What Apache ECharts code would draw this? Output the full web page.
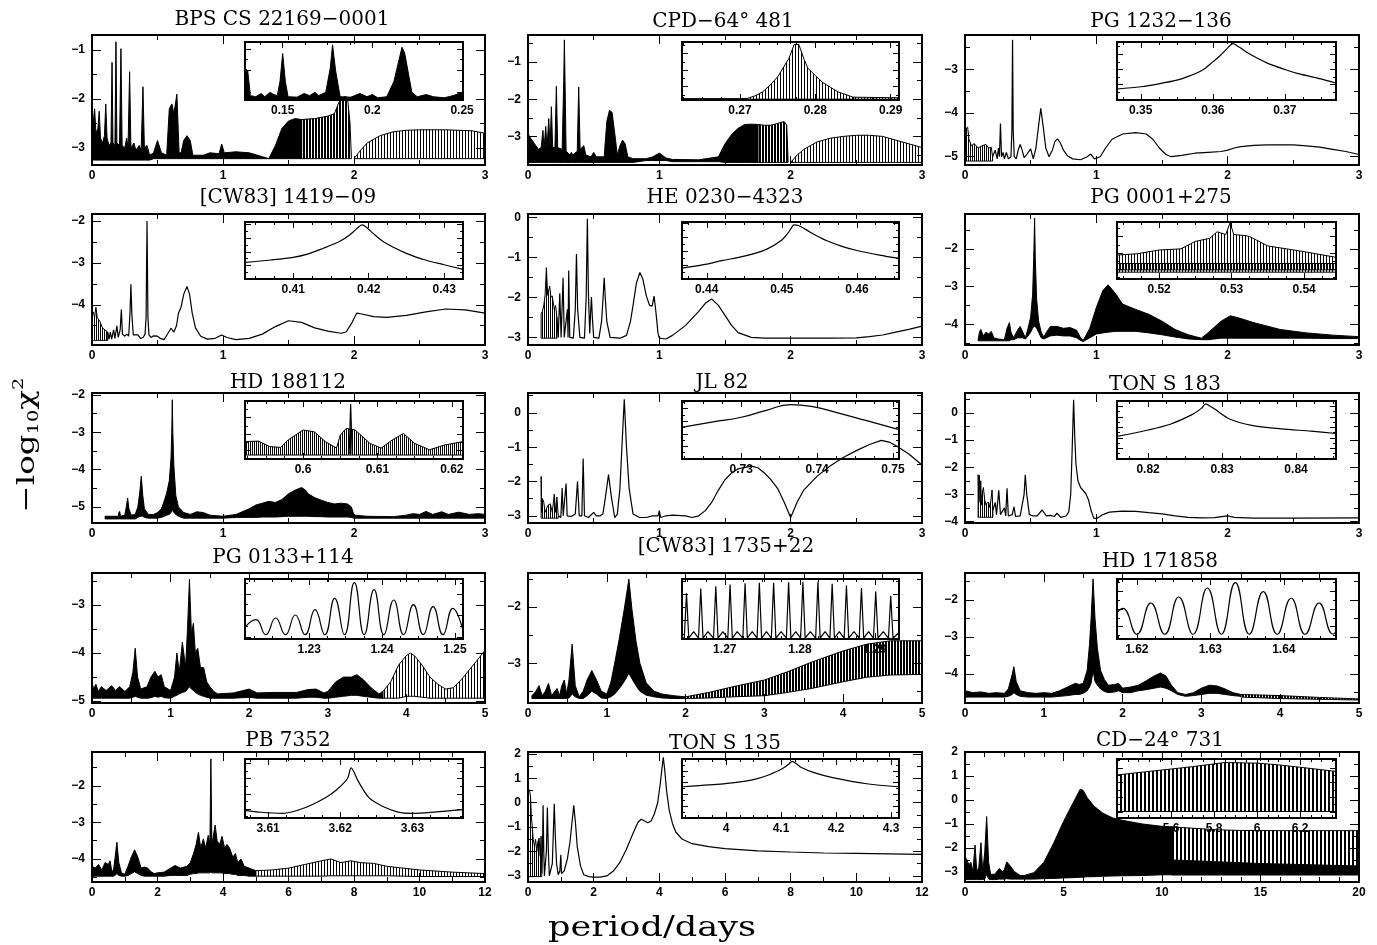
<!DOCTYPE html>
<html><head><meta charset="utf-8">
<script src="https://cdn.jsdelivr.net/npm/echarts@6/dist/echarts.min.js"></script>
<style>html,body{margin:0;padding:0;background:#fff}#c{width:1377px;height:945px}</style>
</head><body><div id="c"></div>
<script>
// ---------------- titles & tick labels ----------------
const titles = ['BPS CS 22169\u22120001','CPD\u221264\u00b0 481','PG 1232\u2212136',
 '[CW83] 1419\u221209','HE 0230\u22124323','PG 0001+275',
 'HD 188112','JL 82','TON S 183',
 'PG 0133+114','[CW83] 1735+22','HD 171858',
 'PB 7352','TON S 135','CD\u221224\u00b0 731'];
const xTicks3 = [0,1,2,3], xTicks5 = [0,1,2,3,4,5], xTicks12 = [0,2,4,6,8,10,12], xTicks20 = [0,5,10,15,20];
const yTicks = [[-3,-2,-1],[-3,-2,-1],[-5,-4,-3],[-4,-3,-2],[-3,-2,-1,0],[-4,-3,-2],[-5,-4,-3,-2],[-3,-2,-1,0],[-4,-3,-2,-1,0],
 [-5,-4,-3],[-3,-2],[-4,-3,-2],[-4,-3,-2],[-3,-2,-1,0,1,2],[-3,-2,-1,0,1,2]];
const insetXTicks = [[0.15,0.2,0.25],[0.27,0.28,0.29],[0.35,0.36,0.37],[0.41,0.42,0.43],[0.44,0.45,0.46],[0.52,0.53,0.54],
 [0.6,0.61,0.62],[0.73,0.74,0.75],[0.82,0.83,0.84],[1.23,1.24,1.25],[1.27,1.28,1.29],[1.62,1.63,1.64],
 [3.61,3.62,3.63],[4,4.1,4.2,4.3],[5.6,5.8,6,6.2]];

// ---------------- series values: band rows are [period, low, high]; lines are [period, value] ----------------
// 1 BPS CS 22169-0001
const bpsBand = [[0,-3.25,-2.6],[0.01,-3.25,-2.45],[0.02,-3.25,-2.2],[0.03,-3.25,-2.7],[0.045,-3.25,-2.6],[0.055,-3.25,-2.25],[0.065,-3.25,-2.8],[0.08,-3.25,-2.9],[0.095,-3.25,-2.75],[0.105,-3.25,-2.1],[0.115,-3.25,-2.8],[0.13,-3.25,-2.95],[0.145,-3.25,-2.9],[0.153,-3.25,-1.25],[0.16,-3.25,-2.9],[0.175,-3.25,-2.95],[0.183,-3.25,-0.83],[0.19,-3.25,-2.9],[0.21,-3.25,-2.95],[0.221,-3.25,-0.97],[0.23,-3.25,-2.95],[0.25,-3.25,-3.0],[0.265,-3.25,-2.8],[0.275,-3.25,-3.0],[0.287,-3.25,-1.44],[0.297,-3.25,-3.0],[0.32,-3.25,-2.9],[0.335,-3.25,-3.05],[0.36,-3.25,-2.95],[0.375,-3.25,-3.05],[0.389,-3.25,-1.75],[0.4,-3.25,-3.0],[0.42,-3.25,-2.95],[0.44,-3.25,-3.15],[0.47,-3.22,-3.1],[0.5,-3.22,-2.85],[0.53,-3.22,-3.1],[0.57,-3.22,-3.15],[0.59,-3.22,-2.2],[0.61,-3.22,-2.1],[0.625,-3.22,-2.3],[0.648,-3.22,-1.9],[0.665,-3.22,-3.1],[0.68,-3.22,-3.1],[0.7,-3.22,-2.85],[0.725,-3.22,-2.75],[0.75,-3.22,-2.85],[0.77,-3.22,-3.15],[0.85,-3.22,-3.15],[0.9,-3.22,-3.1],[0.97,-3.22,-3.12],[0.99,-3.22,-2.92],[1.01,-3.22,-3.1],[1.1,-3.22,-3.08],[1.2,-3.22,-3.1],[1.3,-3.22,-3.18],[1.35,-3.22,-3.22],[1.4,-3.22,-2.95],[1.45,-3.22,-2.6],[1.5,-3.22,-2.45],[1.55,-3.22,-2.4],[1.6,-3.22,-2.42]];
const bpsDense = [[1.6,-3.22,-2.42],[1.7,-3.22,-2.4],[1.8,-3.22,-2.35],[1.85,-3.22,-2.3],[1.88,-3.22,-2.1],[1.9,-3.22,-2.0],[1.93,-3.22,-1.95],[1.95,-3.22,-1.97],[1.97,-3.22,-2.5],[1.98,-3.22,-3.2]];
const bpsMedium = [[2.0,-3.22,-3.22],[2.05,-3.22,-3.05],[2.1,-3.22,-2.9],[2.2,-3.22,-2.75],[2.3,-3.22,-2.67],[2.4,-3.22,-2.64],[2.5,-3.22,-2.63],[2.7,-3.22,-2.63],[2.9,-3.22,-2.65],[3.0,-3.22,-2.7]];
const bpsInsetBand = [[0.129,-3.3,-1.9],[0.1305,-3.3,-2.0],[0.132,-3.3,-3.15],[0.135,-3.3,-3.2],[0.138,-3.3,-3.05],[0.14,-3.3,-3.2],[0.143,-3.3,-3.0],[0.145,-3.3,-3.1],[0.147,-3.3,-3.15],[0.1485,-3.3,-2.5],[0.15,-3.3,-1.22],[0.1515,-3.3,-2.5],[0.153,-3.3,-3.2],[0.158,-3.3,-3.22],[0.162,-3.3,-3.05],[0.165,-3.3,-3.15],[0.168,-3.3,-3.0],[0.17,-3.3,-3.15],[0.174,-3.3,-3.0],[0.1765,-3.3,-1.9],[0.1778,-3.3,-0.82],[0.1795,-3.3,-2.0],[0.182,-3.3,-3.2],[0.188,-3.3,-3.22],[0.193,-3.3,-3.05],[0.197,-3.3,-3.2],[0.2,-3.3,-3.1],[0.203,-3.3,-3.25],[0.208,-3.3,-3.2],[0.212,-3.3,-2.5],[0.2165,-3.3,-0.93],[0.218,-3.3,-1.2],[0.222,-3.3,-3.0],[0.225,-3.3,-3.2],[0.23,-3.3,-3.1],[0.234,-3.3,-3.2],[0.24,-3.3,-3.25],[0.245,-3.3,-3.15],[0.25,-3.3,-3.0]];
// 2 CPD-64 481
const cpdBand = [[0,-3.7,-2.93],[0.02,-3.7,-3.05],[0.05,-3.7,-3.2],[0.08,-3.7,-3.35],[0.1,-3.7,-3.3],[0.114,-3.7,-2.84],[0.122,-3.7,-3.35],[0.135,-3.7,-2.73],[0.145,-3.7,-3.3],[0.158,-3.7,-2.52],[0.168,-3.7,-3.3],[0.178,-3.7,-2.2],[0.188,-3.7,-3.3],[0.205,-3.7,-3.3],[0.216,-3.7,-1.65],[0.226,-3.7,-3.3],[0.26,-3.7,-3.35],[0.272,-3.7,-1.5],[0.277,-3.7,-0.4],[0.282,-3.7,-1.5],[0.29,-3.7,-3.4],[0.32,-3.7,-3.5],[0.33,-3.7,-3.43],[0.34,-3.7,-3.5],[0.375,-3.7,-3.4],[0.386,-3.7,-1.67],[0.397,-3.7,-3.35],[0.41,-3.7,-3.3],[0.425,-3.7,-3.25],[0.44,-3.7,-3.5],[0.48,-3.7,-3.55],[0.5,-3.7,-3.43],[0.52,-3.7,-3.55],[0.58,-3.7,-3.55],[0.6,-3.7,-2.6],[0.62,-3.7,-2.3],[0.64,-3.7,-2.35],[0.66,-3.7,-2.9],[0.68,-3.7,-3.5],[0.7,-3.7,-3.25],[0.72,-3.7,-3.1],[0.74,-3.7,-3.2],[0.76,-3.7,-3.55],[0.8,-3.7,-3.6],[0.9,-3.65,-3.6],[0.95,-3.65,-3.55],[1.0,-3.65,-3.45],[1.05,-3.65,-3.58],[1.1,-3.68,-3.62],[1.3,-3.68,-3.63],[1.45,-3.68,-3.55],[1.5,-3.7,-3.2],[1.55,-3.7,-2.95],[1.6,-3.7,-2.78],[1.65,-3.7,-2.68],[1.7,-3.7,-2.67],[1.75,-3.7,-2.68]];
const cpdDense = [[1.75,-3.7,-2.68],[1.8,-3.7,-2.7],[1.85,-3.7,-2.7],[1.9,-3.7,-2.65],[1.95,-3.7,-2.6],[1.97,-3.7,-2.7],[1.98,-3.7,-3.6]];
const cpdMedium = [[2.0,-3.7,-3.7],[2.05,-3.7,-3.5],[2.1,-3.7,-3.35],[2.2,-3.7,-3.15],[2.3,-3.7,-3.05],[2.4,-3.7,-3.0],[2.5,-3.7,-2.97],[2.6,-3.7,-2.97],[2.7,-3.7,-3.0],[2.8,-3.7,-3.1],[2.9,-3.7,-3.2],[3.0,-3.7,-3.3]];
const cpdInsetComb = [[0.2623,-3.75,-3.72],[0.27,-3.75,-3.72],[0.271,-3.75,-3.7],[0.272,-3.75,-3.55],[0.273,-3.75,-3.31],[0.274,-3.75,-2.9],[0.275,-3.75,-2.4],[0.2765,-3.75,-1.28],[0.2772,-3.75,-0.44],[0.2778,-3.75,-0.44],[0.2785,-3.75,-1.35],[0.279,-3.75,-1.88],[0.28,-3.75,-2.33],[0.281,-3.75,-2.75],[0.282,-3.75,-3.03],[0.283,-3.75,-3.31],[0.285,-3.75,-3.63],[0.29,-3.75,-3.66],[0.2911,-3.75,-3.66]];
// 3 PG 1232-136
const pg1232Noise = [[0,-5.1,-4.5],[0.01,-5.1,-4.35],[0.02,-5.1,-4.32],[0.03,-5.1,-4.6],[0.05,-5.1,-4.75],[0.07,-5.1,-4.7],[0.1,-5.1,-4.8],[0.13,-5.1,-4.75],[0.16,-5.1,-4.72],[0.18,-5.1,-4.8],[0.2,-5.1,-4.78],[0.21,-5.1,-5.0]];
const pg1232Line = [[0.21,-5.0],[0.23,-4.85],[0.245,-5.05],[0.255,-4.8],[0.262,-5.0],[0.27,-4.24],[0.278,-5.0],[0.29,-4.9],[0.3,-5.05],[0.315,-4.9],[0.33,-5.05],[0.35,-5.0],[0.357,-4.4],[0.362,-2.32],[0.367,-4.4],[0.375,-5.0],[0.39,-5.05],[0.405,-4.85],[0.42,-4.72],[0.435,-4.85],[0.45,-5.02],[0.47,-4.95],[0.5,-4.82],[0.52,-5.05],[0.54,-4.8],[0.56,-4.3],[0.577,-3.89],[0.595,-4.3],[0.615,-4.8],[0.64,-5.0],[0.665,-4.85],[0.685,-4.65],[0.704,-4.59],[0.725,-4.68],[0.75,-4.85],[0.78,-4.98],[0.82,-5.05],[0.88,-5.07],[0.93,-5.0],[0.958,-4.94],[0.985,-5.05],[1.0,-5.09],[1.03,-5.0],[1.07,-4.8],[1.12,-4.6],[1.2,-4.48],[1.3,-4.45],[1.38,-4.48],[1.43,-4.6],[1.48,-4.8],[1.53,-4.95],[1.57,-5.0],[1.65,-4.97],[1.75,-4.92],[1.85,-4.9],[1.95,-4.88],[2.0,-4.85],[2.05,-4.8],[2.1,-4.77],[2.2,-4.74],[2.3,-4.73],[2.5,-4.73],[2.6,-4.75],[2.7,-4.78],[2.8,-4.83],[2.9,-4.88],[3.0,-4.95]];
const pg1232Inset = [[0.3467,-5.28],[0.35,-5.13],[0.3525,-4.94],[0.355,-4.7],[0.3565,-4.47],[0.358,-4.18],[0.359,-3.9],[0.36,-3.5],[0.361,-3.1],[0.362,-2.62],[0.3628,-2.31],[0.3637,-2.55],[0.365,-2.96],[0.3675,-3.57],[0.37,-4.0],[0.372,-4.29],[0.375,-4.62],[0.3771,-4.9]];
// 4 [CW83] 1419-09
const cw1419Noise = [[0,-4.85,-4.3],[0.01,-4.85,-4.17],[0.02,-4.85,-4.3],[0.03,-4.85,-4.06],[0.04,-4.85,-4.3],[0.06,-4.85,-4.4],[0.08,-4.85,-4.55],[0.1,-4.85,-4.6],[0.12,-4.85,-4.65]];
const cw1419Line = [[0.12,-4.65],[0.13,-4.82],[0.14,-4.65],[0.15,-4.82],[0.165,-4.6],[0.175,-4.8],[0.19,-4.5],[0.2,-4.78],[0.215,-4.6],[0.224,-4.11],[0.232,-4.7],[0.25,-4.75],[0.265,-4.7],[0.28,-4.75],[0.29,-4.2],[0.297,-3.51],[0.304,-4.2],[0.315,-4.72],[0.33,-4.68],[0.35,-4.72],[0.37,-4.8],[0.39,-4.78],[0.405,-4.7],[0.413,-4.3],[0.42,-2.0],[0.427,-4.3],[0.435,-4.72],[0.45,-4.78],[0.47,-4.74],[0.5,-4.75],[0.52,-4.8],[0.55,-4.83],[0.58,-4.68],[0.603,-4.56],[0.625,-4.65],[0.645,-4.5],[0.66,-4.2],[0.68,-4.05],[0.7,-3.75],[0.725,-3.56],[0.745,-3.75],[0.765,-4.2],[0.79,-4.55],[0.83,-4.75],[0.88,-4.82],[0.94,-4.8],[0.99,-4.72],[1.03,-4.78],[1.1,-4.83],[1.2,-4.8],[1.3,-4.7],[1.4,-4.52],[1.5,-4.38],[1.6,-4.42],[1.7,-4.55],[1.8,-4.63],[1.9,-4.68],[1.94,-4.65],[1.98,-4.45],[2.02,-4.2],[2.06,-4.22],[2.15,-4.28],[2.25,-4.3],[2.4,-4.25],[2.55,-4.17],[2.7,-4.1],[2.85,-4.12],[3.0,-4.2]];
const cw1419Inset = [[0.4036,-4.78],[0.407,-4.6],[0.41,-4.4],[0.412,-4.15],[0.414,-3.73],[0.416,-3.27],[0.417,-2.95],[0.418,-2.5],[0.4187,-2.15],[0.4191,-2.01],[0.4197,-2.18],[0.4205,-2.6],[0.422,-3.27],[0.425,-4.11],[0.4275,-4.6],[0.43,-4.95],[0.4325,-5.29]];
// 5 HE 0230-4323
const heNoise = [[0.1,-3.02,-2.4],[0.11,-3.02,-2.35],[0.12,-3.02,-2.2],[0.13,-3.02,-1.95],[0.14,-3.02,-1.26],[0.15,-3.02,-1.95],[0.165,-3.02,-1.72],[0.175,-3.02,-2.0],[0.185,-3.02,-1.97],[0.2,-3.02,-2.3],[0.21,-3.02,-2.2],[0.22,-3.02,-2.5]];
const heLine = [[0.22,-2.5],[0.23,-3.0],[0.242,-1.9],[0.252,-3.0],[0.258,-3.0],[0.267,-1.51],[0.276,-3.0],[0.29,-3.0],[0.3,-2.3],[0.305,-3.0],[0.31,-1.33],[0.318,-3.0],[0.345,-3.02],[0.36,-2.3],[0.369,-0.92],[0.378,-2.3],[0.395,-3.0],[0.43,-3.02],[0.443,-2.0],[0.452,-0.04],[0.46,-1.9],[0.47,-2.9],[0.478,-2.3],[0.483,-1.99],[0.49,-2.5],[0.5,-3.0],[0.54,-3.02],[0.56,-2.6],[0.572,-2.0],[0.58,-1.51],[0.588,-2.0],[0.6,-2.6],[0.625,-3.0],[0.7,-3.02],[0.75,-2.95],[0.78,-2.6],[0.8,-2.2],[0.825,-1.65],[0.852,-1.38],[0.875,-1.55],[0.9,-1.95],[0.925,-2.2],[0.945,-2.22],[0.96,-1.97],[0.975,-2.4],[0.99,-2.9],[1.0,-3.02],[1.05,-3.04],[1.1,-2.95],[1.2,-2.7],[1.3,-2.35],[1.35,-2.15],[1.398,-2.04],[1.45,-2.2],[1.5,-2.45],[1.55,-2.7],[1.6,-2.88],[1.7,-3.0],[1.8,-3.02],[2.0,-3.02],[2.3,-3.02],[2.5,-3.01],[2.6,-2.98],[2.7,-2.94],[2.8,-2.87],[2.9,-2.8],[3.0,-2.72]];
const heInset = [[0.4367,-3.22],[0.44,-2.93],[0.442,-2.68],[0.445,-2.36],[0.448,-1.85],[0.45,-1.2],[0.4508,-0.7],[0.4513,-0.3],[0.4516,-0.1],[0.4522,-0.15],[0.4532,-0.45],[0.4545,-0.85],[0.456,-1.25],[0.458,-1.65],[0.46,-1.95],[0.463,-2.28],[0.4656,-2.52]];
// 6 PG 0001+275
const pg0001Band = [[0.1,-4.43,-4.4],[0.11,-4.43,-4.2],[0.12,-4.43,-4.13],[0.14,-4.43,-4.3],[0.16,-4.43,-4.2],[0.18,-4.43,-4.25],[0.2,-4.43,-4.18],[0.22,-4.43,-4.35],[0.25,-4.43,-4.38],[0.3,-4.43,-4.4],[0.32,-4.43,-4.1],[0.338,-4.43,-3.95],[0.35,-4.4,-4.2],[0.37,-4.4,-4.35],[0.4,-4.35,-4.15],[0.42,-4.35,-4.05],[0.44,-4.35,-4.2],[0.46,-4.38,-4.35],[0.48,-4.3,-4.1],[0.5,-4.2,-3.8],[0.515,-4.1,-3.2],[0.525,-4.05,-2.0],[0.53,-4.05,-1.19],[0.535,-4.05,-2.2],[0.545,-4.1,-3.3],[0.56,-4.2,-3.9],[0.58,-4.35,-4.2],[0.6,-4.38,-4.33],[0.62,-4.35,-4.2],[0.65,-4.3,-4.05],[0.7,-4.28,-4.05],[0.75,-4.3,-4.1],[0.8,-4.3,-4.08],[0.85,-4.35,-4.15],[0.88,-4.42,-4.35],[0.9,-4.45,-4.42],[0.95,-4.35,-4.1],[1.0,-4.25,-3.55],[1.05,-4.22,-3.1],[1.09,-4.2,-2.95],[1.15,-4.18,-3.2],[1.2,-4.18,-3.46],[1.3,-4.18,-3.6],[1.4,-4.22,-3.73],[1.5,-4.27,-3.91],[1.6,-4.33,-4.13],[1.7,-4.38,-4.27],[1.8,-4.4,-4.36],[1.85,-4.4,-4.22],[1.95,-4.36,-3.91],[2.02,-4.36,-3.77],[2.08,-4.36,-3.82],[2.2,-4.36,-3.95],[2.4,-4.36,-4.13],[2.6,-4.36,-4.22],[2.8,-4.37,-4.28],[3.0,-4.37,-4.32]];
const pg0001InsetComb = [[0.5142,-4.18,-3.13],[0.517,-4.18,-3.05],[0.52,-4.18,-2.82],[0.523,-4.18,-2.75],[0.525,-4.18,-2.29],[0.527,-4.18,-2.1],[0.528,-4.18,-1.7],[0.5292,-4.18,-1.87],[0.5298,-4.18,-1.14],[0.5303,-4.18,-1.87],[0.532,-4.18,-1.94],[0.5325,-4.18,-2.0],[0.535,-4.18,-2.57],[0.54,-4.18,-2.92],[0.5444,-4.18,-3.27]];
const pg0001InsetCore = [[0.5142,-4.04,-3.65],[0.5444,-4.04,-3.65]];
// 7 HD 188112
const hd188Band = [[0.1,-5.32,-5.25],[0.2,-5.32,-5.25],[0.205,-5.32,-5.15],[0.211,-5.32,-5.12],[0.218,-5.32,-5.25],[0.25,-5.32,-5.22],[0.262,-5.32,-5.0],[0.272,-5.32,-4.76],[0.282,-5.32,-5.05],[0.3,-5.32,-5.22],[0.33,-5.32,-5.2],[0.35,-5.28,-5.0],[0.365,-5.25,-4.6],[0.376,-5.25,-4.18],[0.388,-5.25,-4.7],[0.4,-5.28,-5.05],[0.43,-5.3,-5.2],[0.47,-5.3,-5.2],[0.5,-5.3,-5.15],[0.53,-5.28,-5.05],[0.55,-5.25,-4.85],[0.57,-5.22,-4.63],[0.59,-5.2,-4.3],[0.603,-5.15,-3.7],[0.609,-5.1,-3.0],[0.613,-5.1,-2.13],[0.617,-5.1,-3.0],[0.625,-5.15,-3.9],[0.64,-5.2,-4.7],[0.66,-5.25,-5.0],[0.7,-5.3,-5.15],[0.75,-5.3,-5.2],[0.8,-5.3,-5.13],[0.85,-5.3,-5.15],[0.9,-5.3,-5.22],[1.0,-5.3,-5.25],[1.1,-5.28,-5.2],[1.2,-5.28,-5.05],[1.25,-5.28,-4.95],[1.3,-5.27,-4.9],[1.35,-5.27,-4.85],[1.4,-5.27,-4.88],[1.45,-5.26,-4.8],[1.5,-5.25,-4.65],[1.55,-5.25,-4.55],[1.6,-5.25,-4.48],[1.63,-5.25,-4.55],[1.65,-5.25,-4.65],[1.7,-5.26,-4.75],[1.75,-5.26,-4.82],[1.8,-5.27,-4.88],[1.85,-5.27,-4.92],[1.9,-5.27,-4.9],[1.95,-5.27,-4.92],[1.98,-5.28,-5.0],[2.0,-5.3,-5.22],[2.1,-5.3,-5.25],[2.3,-5.3,-5.26],[2.4,-5.3,-5.22],[2.45,-5.3,-5.18],[2.5,-5.3,-5.2],[2.55,-5.3,-5.12],[2.6,-5.3,-5.2],[2.67,-5.3,-5.13],[2.72,-5.3,-5.2],[2.8,-5.3,-5.14],[2.88,-5.3,-5.2],[2.95,-5.3,-5.18],[3.0,-5.3,-5.2]];
const hd188InsetComb = [[0.5922,-5.26,-4.45],[0.594,-5.26,-4.42],[0.5955,-5.26,-4.75],[0.597,-5.26,-4.8],[0.598,-5.26,-4.35],[0.6,-5.26,-3.75],[0.6015,-5.26,-3.86],[0.603,-5.26,-4.45],[0.6045,-5.26,-4.84],[0.605,-5.26,-4.07],[0.6058,-5.26,-3.65],[0.607,-5.26,-3.75],[0.609,-5.26,-4.56],[0.6105,-5.26,-4.84],[0.612,-5.26,-4.35],[0.6135,-5.26,-3.96],[0.615,-5.26,-4.56],[0.617,-5.26,-4.94],[0.619,-5.26,-4.66],[0.6215,-5.26,-4.45]];
const hd188InsetSpike = [[0.6062,-5.2],[0.6064,-2.18],[0.6066,-5.2]];
// 8 JL 82
const jlNoise = [[0.1,-3.07,-1.85],[0.105,-3.07,-2.9],[0.11,-3.07,-2.5],[0.12,-3.07,-2.6],[0.13,-3.07,-2.9],[0.15,-3.07,-2.7],[0.17,-3.07,-2.65],[0.185,-3.07,-2.9],[0.2,-3.07,-2.37],[0.21,-3.07,-2.9],[0.22,-3.07,-2.45],[0.23,-3.07,-3.0]];
const jlLine = [[0.23,-3.0],[0.25,-3.05],[0.26,-2.19],[0.268,-3.0],[0.28,-3.0],[0.29,-2.06],[0.298,-3.0],[0.33,-3.02],[0.36,-2.95],[0.377,-2.0],[0.39,-3.0],[0.41,-3.0],[0.42,-1.33],[0.43,-3.0],[0.46,-3.05],[0.5,-2.9],[0.52,-3.0],[0.55,-3.0],[0.57,-2.95],[0.59,-2.45],[0.613,-1.8],[0.635,-2.45],[0.66,-3.05],[0.68,-2.95],[0.7,-2.2],[0.715,-1.0],[0.733,0.4],[0.75,-1.0],[0.77,-2.2],[0.8,-2.95],[0.85,-3.05],[0.9,-3.05],[0.95,-3.0],[0.99,-3.0],[1.0,-2.85],[1.01,-3.05],[1.05,-3.0],[1.1,-2.98],[1.2,-3.0],[1.25,-3.05],[1.3,-3.0],[1.35,-2.85],[1.4,-2.6],[1.45,-2.25],[1.5,-1.95],[1.55,-1.75],[1.6,-1.63],[1.7,-1.55],[1.75,-1.6],[1.8,-1.75],[1.85,-1.95],[1.9,-2.2],[1.95,-2.6],[2.0,-3.05],[2.05,-2.6],[2.1,-2.25],[2.2,-1.85],[2.3,-1.55],[2.4,-1.3],[2.5,-1.1],[2.6,-0.92],[2.69,-0.8],[2.75,-0.85],[2.8,-0.95],[2.9,-1.2],[3.0,-1.52]];
const jlInset = [[0.7223,-1.47],[0.7263,-1.06],[0.73,-0.69],[0.7333,-0.14],[0.7365,0.32],[0.7396,0.14],[0.7426,-0.32],[0.7463,-0.92],[0.7507,-1.65]];
// 9 TON S 183
const ton183Noise = [[0.1,-3.85,-2.28],[0.105,-3.85,-3.2],[0.11,-3.85,-2.3],[0.115,-3.85,-3.3],[0.12,-3.85,-2.5],[0.125,-3.85,-3.4],[0.13,-3.85,-3.0],[0.14,-3.85,-2.75],[0.15,-3.85,-3.2],[0.16,-3.85,-3.4],[0.17,-3.85,-3.3],[0.18,-3.85,-3.3],[0.19,-3.85,-3.5],[0.2,-3.85,-3.1],[0.206,-3.85,-2.84],[0.212,-3.85,-3.6]];
const ton183Line = [[0.212,-3.6],[0.23,-3.3],[0.24,-3.75],[0.257,-2.85],[0.27,-3.75],[0.3,-3.5],[0.31,-3.8],[0.32,-2.78],[0.33,-3.8],[0.36,-3.75],[0.373,-3.46],[0.385,-3.82],[0.42,-3.8],[0.45,-3.0],[0.459,-2.28],[0.47,-3.0],[0.49,-3.75],[0.52,-3.8],[0.55,-3.8],[0.587,-3.58],[0.62,-3.8],[0.65,-3.78],[0.68,-3.82],[0.7,-3.7],[0.73,-3.85],[0.77,-3.8],[0.79,-3.65],[0.805,-3.0],[0.815,-1.5],[0.827,0.49],[0.836,-0.9],[0.845,-1.9],[0.86,-2.5],[0.88,-2.75],[0.9,-2.86],[0.92,-2.98],[0.94,-3.2],[0.96,-3.6],[0.98,-3.88],[1.0,-3.9],[1.05,-3.75],[1.1,-3.66],[1.2,-3.62],[1.3,-3.63],[1.4,-3.68],[1.5,-3.72],[1.6,-3.8],[1.7,-3.85],[1.8,-3.87],[1.9,-3.86],[2.0,-3.8],[2.05,-3.85],[2.2,-3.88],[2.5,-3.88],[3.0,-3.87]];
const ton183Inset = [[0.8158,-2.86],[0.82,-2.25],[0.823,-1.7],[0.826,-0.77],[0.8272,-0.2],[0.8278,0.23],[0.8285,-0.05],[0.829,-0.27],[0.831,-1.2],[0.834,-1.81],[0.838,-2.14],[0.842,-2.36],[0.8454,-2.58]];
// 10 PG 0133+114
const pg0133Band = [[0,-4.94,-4.6],[0.02,-4.94,-4.75],[0.05,-4.94,-4.65],[0.08,-4.94,-4.8],[0.12,-4.94,-4.7],[0.18,-4.94,-4.78],[0.25,-4.94,-4.68],[0.3,-4.94,-4.78],[0.35,-4.94,-4.7],[0.42,-4.94,-4.8],[0.48,-4.94,-4.7],[0.52,-4.92,-4.4],[0.55,-4.9,-3.9],[0.58,-4.92,-4.5],[0.62,-4.94,-4.75],[0.7,-4.94,-4.7],[0.75,-4.93,-4.5],[0.8,-4.9,-4.38],[0.84,-4.92,-4.5],[0.88,-4.9,-4.45],[0.92,-4.93,-4.7],[1.0,-4.94,-4.78],[1.05,-4.9,-4.5],[1.08,-4.88,-4.0],[1.11,-4.85,-4.4],[1.15,-4.82,-3.77],[1.19,-4.8,-4.3],[1.215,-4.75,-3.5],[1.24,-4.7,-2.46],[1.265,-4.75,-3.6],[1.29,-4.78,-3.38],[1.315,-4.82,-4.0],[1.345,-4.85,-3.9],[1.38,-4.88,-4.3],[1.42,-4.9,-4.3],[1.46,-4.92,-4.6],[1.5,-4.94,-4.7],[1.55,-4.94,-4.8],[1.6,-4.94,-4.85],[1.8,-4.94,-4.83],[2.0,-4.92,-4.75],[2.1,-4.94,-4.83],[2.3,-4.94,-4.82],[2.6,-4.94,-4.82],[2.75,-4.92,-4.76],[2.85,-4.92,-4.75],[2.95,-4.94,-4.83],[3.0,-4.94,-4.8],[3.1,-4.92,-4.6],[3.2,-4.9,-4.5],[3.3,-4.88,-4.5],[3.37,-4.88,-4.45],[3.45,-4.9,-4.55],[3.55,-4.92,-4.72],[3.65,-4.94,-4.85],[3.7,-4.94,-4.8]];
const pg0133Medium = [[3.7,-4.94,-4.8],[3.8,-4.94,-4.6],[3.9,-4.94,-4.25],[4.0,-4.9,-4.05],[4.05,-4.9,-4.0],[4.1,-4.9,-4.05],[4.2,-4.92,-4.25],[4.3,-4.94,-4.5],[4.4,-4.94,-4.65],[4.5,-4.94,-4.75],[4.6,-4.94,-4.72],[4.7,-4.94,-4.55],[4.8,-4.94,-4.35],[4.9,-4.94,-4.15],[5.0,-4.94,-3.94]];
const pg0133Inset = [[1.2212,-4.55],[1.2227,-4.2],[1.22405,-4.9],[1.2254,-4.12],[1.22675,-4.9],[1.2281,-3.98],[1.22945,-4.9],[1.2308,-3.73],[1.23215,-4.9],[1.2335,-3.2],[1.23485,-4.9],[1.2362,-2.47],[1.23755,-4.9],[1.2389,-2.8],[1.24025,-4.9],[1.2416,-3.28],[1.24295,-4.9],[1.2443,-3.5],[1.24565,-4.9],[1.247,-3.59],[1.24835,-4.9],[1.2497,-3.67],[1.2511,-4.7]];
// 11 [CW83] 1735+22
const cw1735Band = [[0.05,-3.63,-3.58],[0.1,-3.63,-3.5],[0.14,-3.63,-3.4],[0.18,-3.63,-3.58],[0.22,-3.63,-3.5],[0.26,-3.63,-3.36],[0.3,-3.63,-3.58],[0.34,-3.63,-3.5],[0.37,-3.63,-3.45],[0.4,-3.63,-3.58],[0.43,-3.63,-3.4],[0.46,-3.63,-3.3],[0.49,-3.63,-3.55],[0.52,-3.62,-3.3],[0.56,-3.55,-2.66],[0.6,-3.6,-3.4],[0.65,-3.63,-3.6],[0.7,-3.63,-3.5],[0.75,-3.58,-3.3],[0.81,-3.5,-3.13],[0.87,-3.55,-3.3],[0.93,-3.62,-3.5],[1.0,-3.63,-3.55],[1.05,-3.6,-3.35],[1.1,-3.55,-3.0],[1.16,-3.45,-2.55],[1.22,-3.33,-2.05],[1.28,-3.18,-1.5],[1.32,-3.28,-2.05],[1.37,-3.4,-2.6],[1.42,-3.5,-3.0],[1.5,-3.57,-3.35],[1.6,-3.6,-3.5],[1.7,-3.62,-3.55],[1.85,-3.63,-3.58],[2.0,-3.63,-3.6]];
const cw1735Dense = [[2.0,-3.63,-3.6],[2.3,-3.62,-3.52],[2.6,-3.6,-3.42],[3.0,-3.58,-3.3],[3.3,-3.52,-3.15],[3.6,-3.45,-2.98],[4.0,-3.33,-2.78],[4.3,-3.25,-2.66],[4.6,-3.21,-2.6],[5.0,-3.2,-2.6]];
const cw1735Inset = [[1.2643,-3.67],[1.2646,-3.67],[1.2649,-1.95],[1.2652,-3.67],[1.26585,-3.42],[1.2665,-3.67],[1.2668,-1.77],[1.2671,-3.67],[1.26775,-3.42],[1.2685,-3.67],[1.2688,-1.68],[1.2691,-3.67],[1.26975,-3.42],[1.2704,-3.67],[1.2707,-1.61],[1.271,-3.67],[1.27165,-3.42],[1.2724,-3.67],[1.2727,-1.56],[1.273,-3.67],[1.27365,-3.42],[1.2743,-3.67],[1.2746,-1.54],[1.2749,-3.67],[1.27555,-3.42],[1.2762,-3.67],[1.2765,-1.54],[1.2768,-3.67],[1.2775,-3.42],[1.2782,-3.67],[1.2785,-1.53],[1.2788,-3.67],[1.27945,-3.42],[1.2801,-3.67],[1.2804,-1.51],[1.2807,-3.67],[1.2814,-3.42],[1.2821,-3.67],[1.2824,-1.51],[1.2827,-3.67],[1.28335,-3.42],[1.284,-3.67],[1.2843,-1.58],[1.2846,-3.67],[1.28525,-3.42],[1.2859,-3.67],[1.2862,-1.65],[1.2865,-3.67],[1.2872,-3.42],[1.2879,-3.67],[1.2882,-1.75],[1.2885,-3.67],[1.28915,-3.42],[1.2898,-3.67],[1.2901,-1.88],[1.2904,-3.67],[1.2911,-3.42],[1.2918,-3.67],[1.2921,-2.04],[1.2924,-3.67],[1.2932,-3.45]];
// 12 HD 171858
const hd171Band = [[0,-4.62,-4.45],[0.1,-4.62,-4.5],[0.2,-4.62,-4.48],[0.3,-4.62,-4.52],[0.4,-4.62,-4.5],[0.5,-4.62,-4.52],[0.55,-4.6,-4.4],[0.6,-4.55,-4.0],[0.62,-4.5,-3.8],[0.65,-4.55,-4.2],[0.7,-4.6,-4.45],[0.8,-4.62,-4.5],[0.9,-4.62,-4.52],[1.0,-4.62,-4.5],[1.1,-4.62,-4.52],[1.2,-4.6,-4.45],[1.3,-4.58,-4.35],[1.4,-4.55,-4.25],[1.45,-4.55,-4.28],[1.5,-4.52,-4.25],[1.55,-4.45,-3.9],[1.58,-4.35,-3.2],[1.6,-4.25,-2.5],[1.625,-3.9,-1.43],[1.65,-4.2,-2.5],[1.68,-4.3,-3.3],[1.72,-4.4,-3.9],[1.77,-4.47,-4.15],[1.82,-4.5,-4.3],[1.9,-4.48,-4.28],[1.95,-4.45,-4.25],[2.0,-4.5,-4.38],[2.1,-4.5,-4.35],[2.2,-4.45,-4.3],[2.3,-4.42,-4.18],[2.4,-4.38,-4.05],[2.48,-4.35,-3.97],[2.55,-4.38,-4.05],[2.62,-4.45,-4.3],[2.7,-4.55,-4.5],[2.8,-4.6,-4.55],[2.9,-4.58,-4.5],[3.0,-4.55,-4.38],[3.1,-4.52,-4.3],[3.2,-4.52,-4.32],[3.3,-4.55,-4.4],[3.4,-4.58,-4.5],[3.5,-4.6,-4.55]];
const hd171Dense = [[3.5,-4.62,-4.55],[4.0,-4.66,-4.58],[4.5,-4.68,-4.63],[5.0,-4.7,-4.67]];
const hd171Inset = [[1.6173,-3.2],[1.6181,-2.97],[1.62,-4.43],[1.6219,-2.66],[1.6238,-4.43],[1.6257,-2.32],[1.62765,-4.43],[1.6296,-1.81],[1.6315,-4.43],[1.6334,-1.5],[1.6353,-4.43],[1.6372,-2.01],[1.6391,-4.43],[1.641,-2.39],[1.6429,-4.43],[1.6448,-2.66],[1.6467,-4.43],[1.6471,-4.3]];
// 13 PB 7352
const pbBand = [[0,-4.47,-4.2],[0.1,-4.47,-4.25],[0.2,-4.47,-4.15],[0.3,-4.47,-4.3],[0.4,-4.47,-4.1],[0.5,-4.47,-4.15],[0.55,-4.47,-4.05],[0.6,-4.47,-4.3],[0.65,-4.47,-4.35],[0.7,-4.45,-4.0],[0.76,-4.4,-3.54],[0.82,-4.45,-4.1],[0.9,-4.47,-4.38],[1.0,-4.47,-4.42],[1.1,-4.45,-4.2],[1.2,-4.4,-3.95],[1.3,-4.35,-3.75],[1.4,-4.4,-3.95],[1.5,-4.45,-4.25],[1.6,-4.47,-4.22],[1.7,-4.47,-4.25],[1.8,-4.47,-4.35],[1.9,-4.47,-4.4],[2.0,-4.47,-4.38],[2.2,-4.47,-4.36],[2.4,-4.45,-4.25],[2.54,-4.45,-4.18],[2.7,-4.45,-4.25],[2.9,-4.45,-4.2],[3.0,-4.42,-4.1],[3.1,-4.4,-3.85],[3.18,-4.4,-3.6],[3.25,-4.38,-3.27],[3.32,-4.38,-3.7],[3.4,-4.38,-3.45],[3.47,-4.38,-3.7],[3.55,-4.38,-3.35],[3.6,-4.38,-3.6],[3.63,-4.35,-1.26],[3.66,-4.38,-3.6],[3.7,-4.38,-3.4],[3.76,-4.38,-3.07],[3.82,-4.38,-3.5],[3.9,-4.38,-3.6],[3.97,-4.38,-3.38],[4.05,-4.4,-3.7],[4.12,-4.4,-3.6],[4.2,-4.4,-3.7],[4.3,-4.42,-3.95],[4.38,-4.42,-3.85],[4.45,-4.45,-4.1],[4.55,-4.45,-4.0],[4.65,-4.45,-4.2],[4.8,-4.47,-4.25],[5.0,-4.47,-4.32]];
const pbMedium = [[5.0,-4.47,-4.32],[5.5,-4.47,-4.3],[6.0,-4.47,-4.25],[6.5,-4.47,-4.15],[7.0,-4.47,-4.05],[7.3,-4.46,-4.0],[7.6,-4.46,-4.1],[7.9,-4.46,-4.05],[8.2,-4.46,-4.1],[8.6,-4.46,-4.12],[9.0,-4.46,-4.2],[9.5,-4.47,-4.25],[10.0,-4.48,-4.3],[10.5,-4.48,-4.33],[11.0,-4.48,-4.36],[11.5,-4.48,-4.38],[12.0,-4.48,-4.4]];
const pbInset = [[3.6068,-4.09],[3.609,-4.22],[3.612,-4.29],[3.615,-3.94],[3.618,-3.24],[3.6195,-2.73],[3.621,-1.99],[3.6215,-1.29],[3.6225,-2.18],[3.624,-3.27],[3.626,-3.86],[3.628,-4.21],[3.63,-4.29],[3.633,-4.21],[3.637,-4.05]];
// 14 TON S 135
const ton135Noise = [[0,-3.03,0.3],[0.02,-3.03,0.55],[0.05,-3.03,0.5],[0.08,-3.03,0.2],[0.1,-3.03,-0.5],[0.13,-3.03,-1.0],[0.16,-3.03,-1.5],[0.2,-3.03,-1.8],[0.23,-3.03,-1.5],[0.27,-3.03,-2.0],[0.3,-3.03,-1.6],[0.34,-3.03,-1.45],[0.37,-3.03,-2.2],[0.4,-3.03,-1.37],[0.42,-3.03,-2.9]];
const ton135Line = [[0.42,-2.9],[0.44,-2.0],[0.46,-0.1],[0.48,-2.0],[0.5,-3.0],[0.53,-3.0],[0.56,-2.0],[0.59,-0.2],[0.62,-2.0],[0.65,-3.0],[0.7,-3.02],[0.74,-2.5],[0.77,-1.3],[0.8,-0.04],[0.83,-1.3],[0.87,-2.5],[0.92,-2.95],[0.97,-2.8],[1.0,-2.13],[1.02,-2.9],[1.05,-2.95],[1.1,-2.8],[1.2,-2.3],[1.28,-1.6],[1.34,-0.8],[1.395,-0.11],[1.45,-0.9],[1.5,-1.8],[1.6,-2.6],[1.7,-2.95],[1.85,-3.03],[2.0,-3.05],[2.2,-3.05],[2.4,-3.0],[2.6,-2.8],[2.8,-2.45],[3.0,-1.9],[3.2,-1.25],[3.35,-0.8],[3.45,-0.68],[3.55,-0.75],[3.65,-0.82],[3.75,-0.75],[3.85,-0.45],[3.95,0.0],[4.03,0.8],[4.08,1.4],[4.12,1.86],[4.16,1.4],[4.22,0.5],[4.3,-0.3],[4.4,-0.85],[4.5,-1.2],[4.7,-1.5],[5.0,-1.68],[5.5,-1.8],[6.0,-1.88],[7.0,-1.97],[8.0,-2.02],[9.0,-2.06],[10.0,-2.08],[11.0,-2.1],[12.0,-2.12]];
const ton135Inset = [[3.922,-0.35],[3.97,-0.2],[4.015,0.0],[4.05,0.25],[4.075,0.6],[4.095,1.0],[4.105,1.25],[4.115,1.6],[4.12,1.8],[4.128,1.6],[4.136,1.3],[4.16,0.85],[4.196,0.4],[4.256,-0.1],[4.315,-0.35]];
// 15 CD-24 731
const cdBand = [[0,-3.32,-2.37],[0.1,-3.32,-2.5],[0.2,-3.32,-2.7],[0.3,-3.32,-2.6],[0.4,-3.32,-3.0],[0.51,-3.32,-1.88],[0.6,-3.32,-3.0],[0.7,-3.32,-2.8],[0.81,-3.32,-1.78],[0.9,-3.32,-3.0],[1.0,-3.3,-2.2],[1.1,-3.1,-0.69],[1.2,-3.3,-2.6],[1.3,-3.32,-3.1],[1.5,-3.32,-3.1],[1.75,-3.3,-2.86],[1.9,-3.3,-3.0],[2.0,-3.3,-2.9],[2.12,-3.28,-2.58],[2.3,-3.3,-2.75],[2.5,-3.3,-2.98],[2.8,-3.3,-3.15],[3.0,-3.3,-3.15],[3.5,-3.3,-3.03],[4.0,-3.28,-2.6],[4.5,-3.27,-1.8],[5.0,-3.25,-0.9],[5.5,-3.24,-0.1],[5.85,-3.22,0.45],[6.0,-3.22,0.4],[6.2,-3.2,0.1],[6.54,-3.2,-0.25],[7.0,-3.18,-0.55],[7.5,-3.17,-0.75],[8.0,-3.16,-0.85],[9.0,-3.15,-1.0],[10.0,-3.12,-1.1],[10.5,-3.12,-1.12]];
const cdWide = [[10.5,-3.12,-1.12],[11.0,-3.12,-1.15],[12.0,-3.12,-1.2],[13.0,-3.12,-1.25],[14.0,-3.12,-1.27],[16.0,-3.12,-1.28],[18.0,-3.12,-1.28],[20.0,-3.12,-1.28]];
const cdCore = [[10.5,-3.12,-2.5],[15.0,-3.12,-2.65],[20.0,-3.12,-2.75]];
const cdInsetComb = [[5.349,-2.96,-0.48],[5.5,-2.96,-0.24],[5.7,-2.96,0.08],[5.85,-2.96,0.36],[6.0,-2.96,0.32],[6.1,-2.96,0.2],[6.2,-2.96,0.04],[6.367,-2.96,-0.24]];

// ---------------- layout (pixels) ----------------
const COLX = [[92,485],[528,922],[965,1359]];
const ROWY = [[35,165],[214,345],[393,523],[573,703],[752,882]];
const INX = [[245,463],[682,899],[1117,1336]];
const INY = [[42,100],[222,279],[401,459],[579,639],[759,818]];
const TITLEPOS = [[282,20],[723,22],[1161,22],[288,198],[725,198],[1161,198],[288,383],[722,383],[1165,385],
 [283,558],[726,547],[1160,562],[288,741],[725,744],[1160,741]];

function stripe(period, black) {
  const c = document.createElement('canvas'); c.width = period; c.height = 8;
  const g = c.getContext('2d'); g.fillStyle = '#000'; g.fillRect(0, 0, black, 8);
  return { image: c, repeat: 'repeat' };
}
const FILL = { solid: '#000', dense: stripe(2,1), medium: stripe(3,1), wide: stripe(4,2), dark: stripe(3,2) };

const panels = [
 {xr:[0,3],xt:xTicks3,xm:0.5,yr:[-3.35,-0.69],bands:[[bpsBand,'solid'],[bpsDense,'dark'],[bpsMedium,'medium']],lines:[],
  inset:{xr:[0.129,0.2505],xm:0.0125,yr:[-3.35,-0.69],bands:[[bpsInsetBand,'solid']],lines:[],smooth:false}},
 {xr:[0,3],xt:xTicks3,xm:0.5,yr:[-3.77,-0.27],bands:[[cpdBand,'solid'],[cpdDense,'dark'],[cpdMedium,'medium']],lines:[],
  inset:{xr:[0.2623,0.2911],xm:0.0025,yr:[-3.8,-0.3],bands:[[cpdInsetComb,'medium']],lines:[],smooth:false}},
 {xr:[0,3],xt:xTicks3,xm:0.5,yr:[-5.19,-2.21],bands:[[pg1232Noise,'dense']],lines:[pg1232Line],
  inset:{xr:[0.3467,0.3771],xm:0.0025,yr:[-6,-2.2],bands:[],lines:[pg1232Inset],smooth:0.3}},
 {xr:[0,3],xt:xTicks3,xm:0.5,yr:[-4.96,-1.83],bands:[[cw1419Noise,'dense']],lines:[cw1419Line],
  inset:{xr:[0.4036,0.4325],xm:0.0025,yr:[-6,-1.8],bands:[],lines:[cw1419Inset],smooth:0.3}},
 {xr:[0,3],xt:xTicks3,xm:0.5,yr:[-3.19,0.08],bands:[[heNoise,'dense']],lines:[heLine],
  inset:{xr:[0.4367,0.4656],xm:0.0025,yr:[-4,0.1],bands:[],lines:[heInset],smooth:0.3}},
 {xr:[0,3],xt:xTicks3,xm:0.5,yr:[-4.54,-1.08],bands:[[pg0001Band,'solid']],lines:[],
  inset:{xr:[0.5142,0.5444],xm:0.0025,yr:[-4.6,-1.1],bands:[[pg0001InsetComb,'medium'],[pg0001InsetCore,'dark']],lines:[],smooth:false}},
 {xr:[0,3],xt:xTicks3,xm:0.5,yr:[-5.43,-1.95],bands:[[hd188Band,'solid']],lines:[],
  inset:{xr:[0.5922,0.6215],xm:0.0025,yr:[-5.5,-2.0],bands:[[hd188InsetComb,'dense']],lines:[hd188InsetSpike],smooth:false}},
 {xr:[0,3],xt:xTicks3,xm:0.5,yr:[-3.21,0.58],bands:[[jlNoise,'dense']],lines:[jlLine],
  inset:{xr:[0.7222,0.7508],xm:0.0025,yr:[-4,0.6],bands:[],lines:[jlInset],smooth:0.5}},
 {xr:[0,3],xt:xTicks3,xm:0.5,yr:[-4.06,0.74],bands:[[ton183Noise,'dense']],lines:[ton183Line],
  inset:{xr:[0.8158,0.8454],xm:0.0025,yr:[-5,0.5],bands:[],lines:[ton183Inset],smooth:0.3}},
 {xr:[0,5],xt:xTicks5,xm:0.5,yr:[-5.04,-2.33],bands:[[pg0133Band,'solid'],[pg0133Medium,'medium']],lines:[],
  inset:{xr:[1.2212,1.2511],xm:0.0025,yr:[-5.1,-2.3],bands:[],lines:[pg0133Inset],smooth:0.5}},
 {xr:[0,5],xt:xTicks5,xm:0.5,yr:[-3.71,-1.39],bands:[[cw1735Band,'solid'],[cw1735Dense,'dark']],lines:[],
  inset:{xr:[1.2643,1.2932],xm:0.0025,yr:[-3.7,-1.4],bands:[],lines:[cw1735Inset],smooth:false}},
 {xr:[0,5],xt:xTicks5,xm:0.5,yr:[-4.78,-1.27],bands:[[hd171Band,'solid'],[hd171Dense,'dark']],lines:[],
  inset:{xr:[1.6173,1.6471],xm:0.0025,yr:[-4.7,-1.3],bands:[],lines:[hd171Inset],smooth:0.5}},
 {xr:[0,12],xt:xTicks12,xm:1,yr:[-4.63,-1.07],bands:[[pbBand,'solid'],[pbMedium,'medium']],lines:[],
  inset:{xr:[3.6068,3.637],xm:0.0025,yr:[-4.6,-0.7],bands:[],lines:[pbInset],smooth:0.3}},
 {xr:[0,12],xt:xTicks12,xm:1,yr:[-3.25,2.08],bands:[[ton135Noise,'dense']],lines:[ton135Line],
  inset:{xr:[3.92,4.3145],xm:0.025,yr:[-3,2],bands:[],lines:[ton135Inset],smooth:0.3}},
 {xr:[0,20],xt:xTicks20,xm:1,yr:[-3.42,2.0],bands:[[cdBand,'solid'],[cdWide,'wide'],[cdCore,'solid']],lines:[],
  inset:{xr:[5.349,6.367],xm:0.05,yr:[-3.4,0.6],bands:[[cdInsetComb,'wide']],lines:[],smooth:false}}
];
const insetYTicks = [[-3,-2,-1],[-3,-2,-1],[-5,-4,-3],[-5,-4,-3,-2],[-3,-2,-1,0],[-4,-3,-2],[-5,-4,-3],[-3,-2,-1,0],[-4,-3,-2,-1,0],
 [-5,-4,-3],[-3,-2],[-4,-3,-2],[-4,-3,-2,-1],[-2,-1,0,1],[-3,-2,-1,0]];

// ---------------- build option ----------------
const grids = [], xAxes = [], yAxes = [], series = [], graphic = [];
const fmt = v => (v < 0 ? '\u2212' + String(-v) : String(v));
function minorVals(r, step) {
  const out = []; const k0 = Math.ceil(r[0] / step - 1e-9), k1 = Math.floor(r[1] / step + 1e-9);
  for (let k = k0; k <= k1; k++) out.push(+(k * step).toFixed(6));
  return out;
}
const LABEL = {color: '#000', fontFamily: 'Liberation Sans', fontSize: 12, fontWeight: 'bold'};
function box(rect, xr, xt, xm, yr, yt, ym, labelled, inset) {
  const gi = grids.length;
  grids.push({left: rect[0], top: rect[1], width: rect[2]-rect[0], height: rect[3]-rect[1], show: true,
    borderColor: '#000', borderWidth: 2, backgroundColor: 'transparent', containLabel: false});
  const majL = inset ? 6 : 9, minL = inset ? 3 : 5;
  const xi = xAxes.length, yi = yAxes.length;
  const mx = minorVals(xr, xm), my = minorVals(yr, ym);
  [['bottom', xt, majL, true], ['bottom', mx, minL, false], ['top', xt, majL, false], ['top', mx, minL, false]].forEach(a => {
    xAxes.push({type: 'value', gridIndex: gi, position: a[0], min: xr[0], max: xr[1], z: 0,
      axisLine: {show: false, onZero: false}, splitLine: {show: false},
      axisTick: {show: true, inside: true, length: a[2], customValues: a[1], lineStyle: {color: '#000', width: 1}},
      axisLabel: Object.assign({show: a[3], customValues: xt, margin: inset ? 5 : 5, formatter: fmt}, LABEL)});
  });
  [['left', yt, majL, labelled], ['left', my, minL, false], ['right', yt, majL, false], ['right', my, minL, false]].forEach(a => {
    yAxes.push({type: 'value', gridIndex: gi, position: a[0], min: yr[0], max: yr[1], z: 0,
      axisLine: {show: false, onZero: false}, splitLine: {show: false},
      axisTick: {show: true, inside: true, length: a[2], customValues: a[1], lineStyle: {color: '#000', width: 1}},
      axisLabel: Object.assign({show: a[3], customValues: yt, margin: 7, formatter: fmt}, LABEL)});
  });
  return {xi, yi};
}
function addBand(ax, arr, fill, z) {
  series.push({type: 'custom', xAxisIndex: ax.xi, yAxisIndex: ax.yi, z: z, silent: true, animation: false,
    data: [[arr[0][0], arr[0][1]]],
    renderItem: (p, api) => {
      const up = arr.map(d => api.coord([d[0], d[2]]));
      const dn = arr.slice().reverse().map(d => api.coord([d[0], d[1]]));
      return {type: 'polygon', shape: {points: up.concat(dn)}, style: {fill: fill, stroke: '#000', lineWidth: 1}};
    }});
}
function addLine(ax, arr, smooth, z) {
  series.push({type: 'line', xAxisIndex: ax.xi, yAxisIndex: ax.yi, data: arr, showSymbol: false, symbol: 'none',
    smooth: smooth, z: z, silent: true, animation: false, lineStyle: {color: '#000', width: 1.2}});
}
panels.forEach((P, i) => {
  const r = Math.floor(i / 3), c = i % 3;
  const main = box([COLX[c][0], ROWY[r][0], COLX[c][1], ROWY[r][1]], P.xr, P.xt, P.xm, P.yr, yTicks[i], 0.5, true, false);
  P.bands.forEach(b => addBand(main, b[0], FILL[b[1]], 2));
  P.lines.forEach(l => addLine(main, l, false, 3));
  const I = P.inset;
  const ins = box([INX[c][0], INY[r][0], INX[c][1], INY[r][1]], I.xr, insetXTicks[i], I.xm, I.yr, insetYTicks[i], 0.5, false, true);
  I.bands.forEach(b => addBand(ins, b[0], FILL[b[1]], 4));
  I.lines.forEach(l => addLine(ins, l, I.smooth, 5));
  graphic.push({type: 'text', x: TITLEPOS[i][0], y: TITLEPOS[i][1], silent: true,
    style: {text: titles[i], font: '20px "DejaVu Serif"', fill: '#000', align: 'center', verticalAlign: 'middle',
      textAlign: 'center', textVerticalAlign: 'middle'}});
});
graphic.push({type: 'text', x: 652, y: 929, scaleX: 1.3, silent: true,
  style: {text: 'period/days', font: '27px "DejaVu Serif"', fill: '#000', align: 'center', verticalAlign: 'middle', textAlign: 'center', textVerticalAlign: 'middle'}});
graphic.push({type: 'text', x: 27, y: 445, rotation: Math.PI / 2, scaleX: 1.3, silent: true,
  style: {text: '{a|\u2212log}{b|10}{a|\u03c7}{c|2}', fill: '#000', align: 'center', verticalAlign: 'middle', textAlign: 'center', textVerticalAlign: 'middle',
    rich: {a: {fontFamily: 'DejaVu Serif', fontSize: 25, lineHeight: 30, fill: '#000', color: '#000'},
           b: {fontFamily: 'DejaVu Serif', fontSize: 15, lineHeight: 14, verticalAlign: 'bottom', fill: '#000', color: '#000'},
           c: {fontFamily: 'DejaVu Serif', fontSize: 15, lineHeight: 14, verticalAlign: 'top', fill: '#000', color: '#000'}}}});

const chart = echarts.init(document.getElementById('c'), null, {renderer: 'canvas'});
chart.setOption({animation: false, backgroundColor: '#fff', grid: grids, xAxis: xAxes, yAxis: yAxes, series: series, graphic: graphic});
</script></body></html>
